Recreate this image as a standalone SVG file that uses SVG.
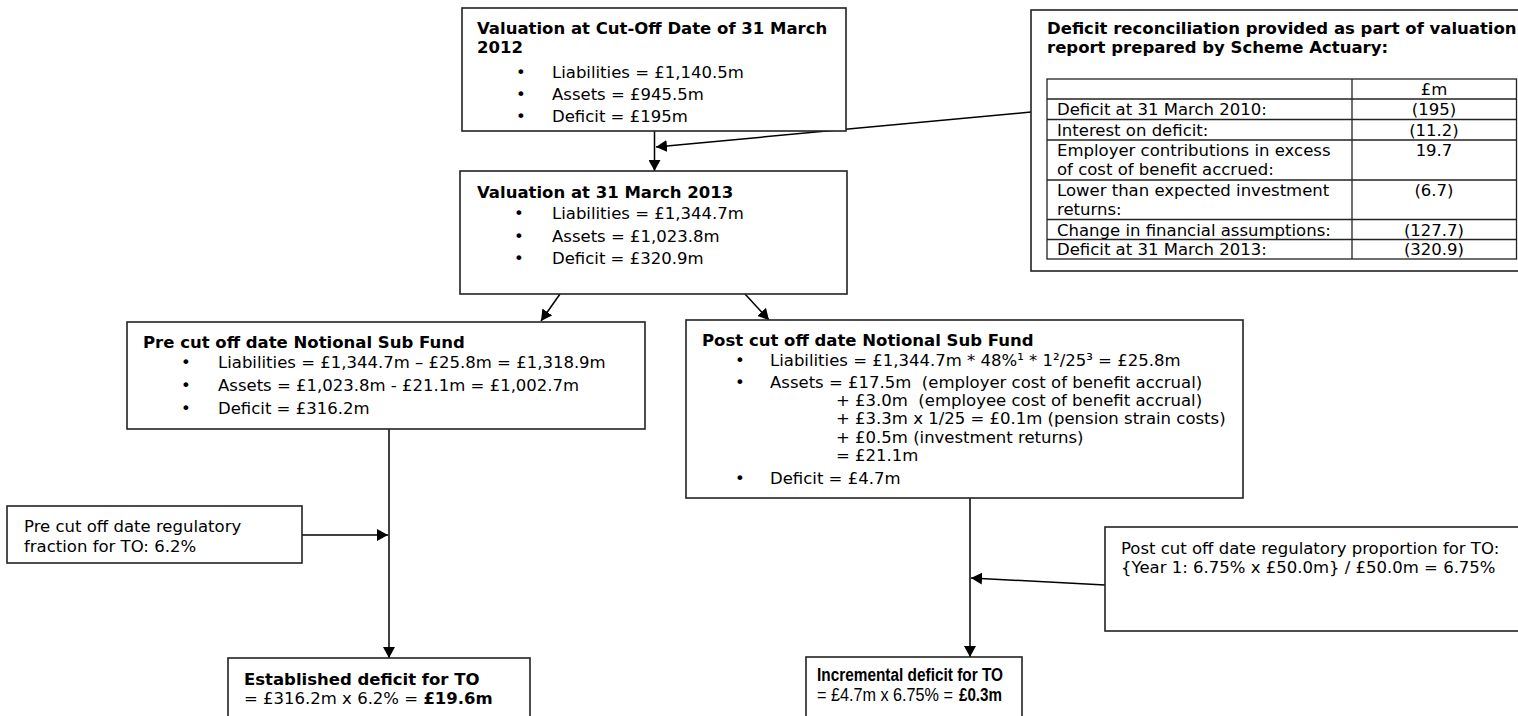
<svg xmlns="http://www.w3.org/2000/svg" width="1518" height="716" viewBox="0 0 1518 716">
<defs>
<style>
.t{font-family:"DejaVu Sans",Verdana,sans-serif;font-size:16.5px;fill:#000;white-space:pre}
.b{font-weight:bold}
.c{font-family:"Liberation Sans",Arial,sans-serif;font-size:17.5px;fill:#000;white-space:pre}
.box{fill:#fff;stroke:#222;stroke-width:1.6}
.grid{fill:none;stroke:#222;stroke-width:1.3}
.ln{fill:none;stroke:#000;stroke-width:1.5}
</style>
<marker id="ah" viewBox="0 0 11 12" refX="11" refY="6" markerWidth="11" markerHeight="12" markerUnits="userSpaceOnUse" orient="auto">
<path d="M0,0 L11,6 L0,12 z" fill="#000"/>
</marker>
</defs>
<rect width="1518" height="716" fill="#fff"/>

<g id="connectors">
<line class="ln" x1="654.5" y1="131" x2="654.5" y2="171" marker-end="url(#ah)"/>
<line class="ln" x1="1031" y1="112" x2="656" y2="147" marker-end="url(#ah)"/>
<line class="ln" x1="560" y1="294" x2="541" y2="321" marker-end="url(#ah)"/>
<line class="ln" x1="745" y1="294" x2="769" y2="320" marker-end="url(#ah)"/>
<line class="ln" x1="389" y1="429" x2="389" y2="658" marker-end="url(#ah)"/>
<line class="ln" x1="302" y1="535" x2="388" y2="535" marker-end="url(#ah)"/>
<line class="ln" x1="970" y1="498" x2="970" y2="657" marker-end="url(#ah)"/>
<line class="ln" x1="1105" y1="585" x2="971" y2="578" marker-end="url(#ah)"/>
</g>

<g id="valuation-2012">
<rect class="box" x="462" y="8" width="384" height="123"/>
<text class="t b" x="477" y="34">Valuation at Cut-Off Date of 31 March</text>
<text class="t b" x="477" y="53">2012</text>
<text class="t" x="516" y="78">•</text><text class="t" x="552" y="78">Liabilities = £1,140.5m</text>
<text class="t" x="516" y="100">•</text><text class="t" x="552" y="100">Assets = £945.5m</text>
<text class="t" x="516" y="122">•</text><text class="t" x="552" y="122">Deficit = £195m</text>
</g>

<g id="reconciliation">
<rect class="box" x="1031" y="10" width="495" height="261"/>
<text class="t b" x="1047" y="34">Deficit reconciliation provided as part of valuation</text>
<text class="t b" x="1047" y="53">report prepared by Scheme Actuary:</text>
<rect class="grid" x="1047" y="79" width="469.5" height="180"/>
<line class="grid" x1="1352" y1="79" x2="1352" y2="259"/>
<line class="grid" x1="1047" y1="99" x2="1516.5" y2="99"/>
<line class="grid" x1="1047" y1="119.5" x2="1516.5" y2="119.5"/>
<line class="grid" x1="1047" y1="140" x2="1516.5" y2="140"/>
<line class="grid" x1="1047" y1="180" x2="1516.5" y2="180"/>
<line class="grid" x1="1047" y1="219.5" x2="1516.5" y2="219.5"/>
<line class="grid" x1="1047" y1="239.5" x2="1516.5" y2="239.5"/>
<text class="t" x="1434" y="95" text-anchor="middle">£m</text>
<text class="t" x="1057" y="115">Deficit at 31 March 2010:</text>
<text class="t" x="1434" y="115" text-anchor="middle">(195)</text>
<text class="t" x="1057" y="135.5">Interest on deficit:</text>
<text class="t" x="1434" y="135.5" text-anchor="middle">(11.2)</text>
<text class="t" x="1057" y="156">Employer contributions in excess</text>
<text class="t" x="1434" y="156" text-anchor="middle">19.7</text>
<text class="t" x="1057" y="175">of cost of benefit accrued:</text>
<text class="t" x="1057" y="196">Lower than expected investment</text>
<text class="t" x="1434" y="196" text-anchor="middle">(6.7)</text>
<text class="t" x="1057" y="215">returns:</text>
<text class="t" x="1057" y="235.5">Change in financial assumptions:</text>
<text class="t" x="1434" y="235.5" text-anchor="middle">(127.7)</text>
<text class="t" x="1057" y="255">Deficit at 31 March 2013:</text>
<text class="t" x="1434" y="255" text-anchor="middle">(320.9)</text>
</g>

<g id="valuation-2013">
<rect class="box" x="460" y="171" width="387" height="123"/>
<text class="t b" x="477" y="198">Valuation at 31 March 2013</text>
<text class="t" x="514" y="219">•</text><text class="t" x="552" y="219">Liabilities = £1,344.7m</text>
<text class="t" x="514" y="241.5">•</text><text class="t" x="552" y="241.5">Assets = £1,023.8m</text>
<text class="t" x="514" y="264">•</text><text class="t" x="552" y="264">Deficit = £320.9m</text>
</g>

<g id="pre-fund">
<rect class="box" x="127" y="322" width="518" height="107"/>
<text class="t b" x="143" y="348">Pre cut off date Notional Sub Fund</text>
<text class="t" x="181" y="368">•</text><text class="t" x="218" y="368">Liabilities = £1,344.7m – £25.8m = £1,318.9m</text>
<text class="t" x="181" y="390.5">•</text><text class="t" x="218" y="390.5">Assets = £1,023.8m - £21.1m = £1,002.7m</text>
<text class="t" x="181" y="414">•</text><text class="t" x="218" y="414">Deficit = £316.2m</text>
</g>

<g id="post-fund">
<rect class="box" x="686" y="320" width="557" height="178"/>
<text class="t b" x="702" y="346">Post cut off date Notional Sub Fund</text>
<text class="t" x="735" y="366">•</text><text class="t" x="770" y="366">Liabilities = £1,344.7m * 48%¹ * 1²/25³ = £25.8m</text>
<text class="t" x="735" y="388">•</text><text class="t" x="770" y="388">Assets = £17.5m  (employer cost of benefit accrual)</text>
<text class="t" x="836" y="406">+ £3.0m  (employee cost of benefit accrual)</text>
<text class="t" x="836" y="424">+ £3.3m x 1/25 = £0.1m (pension strain costs)</text>
<text class="t" x="836" y="443">+ £0.5m (investment returns)</text>
<text class="t" x="836" y="461">= £21.1m</text>
<text class="t" x="735" y="484">•</text><text class="t" x="770" y="484">Deficit = £4.7m</text>
</g>

<g id="pre-fraction">
<rect class="box" x="7" y="506" width="295" height="57"/>
<text class="t" x="24" y="532">Pre cut off date regulatory</text>
<text class="t" x="24" y="552">fraction for TO: 6.2%</text>
</g>

<g id="post-proportion">
<rect class="box" x="1105" y="527" width="420" height="104"/>
<text class="t" x="1121" y="554">Post cut off date regulatory proportion for TO:</text>
<text class="t" x="1121" y="573">{Year 1: 6.75% x £50.0m} / £50.0m = 6.75%</text>
</g>

<g id="established">
<rect class="box" x="228" y="658" width="302" height="70"/>
<text class="t b" x="244" y="685">Established deficit for TO</text>
<text class="t" x="244" y="704">= £316.2m x 6.2% = <tspan class="b">£19.6m</tspan></text>
</g>

<g id="incremental">
<rect class="box" x="806" y="657" width="216" height="70"/>
<text class="c b" x="817" y="681" textLength="186" lengthAdjust="spacingAndGlyphs">Incremental deficit for TO</text>
<text class="c" x="817" y="701" textLength="136" lengthAdjust="spacingAndGlyphs">= £4.7m x 6.75% =</text>
<text class="c b" x="959" y="701" textLength="43" lengthAdjust="spacingAndGlyphs">£0.3m</text>
</g>
</svg>
